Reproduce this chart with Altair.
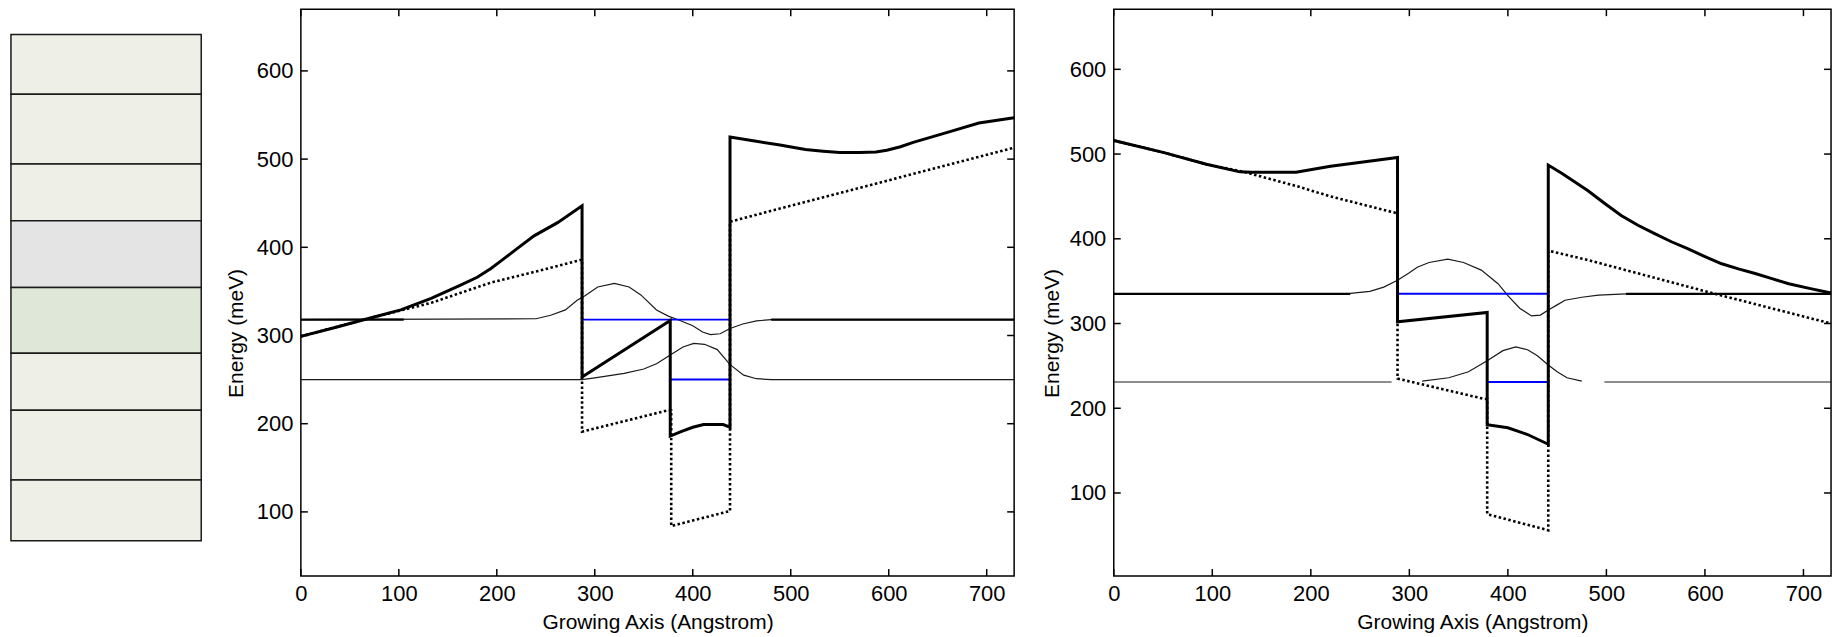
import altair as alt
import pandas as pd

FONT = "Liberation Sans"

# ---------------- layer stack (schematic, top to bottom) ----------------
layer_thickness = [60, 70, 57, 67, 66, 57, 70, 61]
layer_fill = ["#EEEFE7", "#EEEFE7", "#EEEFE7", "#E4E4E4", "#DFE7D9",
              "#EEEFE7", "#EEEFE7", "#EEEFE7"]

# ---------------- axes ----------------
x_ticks = [0, 100, 200, 300, 400, 500, 600, 700]
y_ticks = [100, 200, 300, 400, 500, 600]
x_domain = [0, 728]
y_domain_left = [27.3, 670]
y_domain_right = [2, 671]

# ---------------- left panel ----------------
L_cb_x = [0, 35, 68, 102, 133, 163, 180, 194, 206, 220, 238, 262, 287, 287, 377, 377, 388, 400, 411, 425, 431, 438,
          438, 460, 489, 499, 515, 533, 550, 570, 587, 598, 612, 625, 659, 692, 728]
L_cb_e = [299, 309, 319, 329, 342, 357, 366, 376, 386, 398, 413, 428, 447, 253, 317, 186, 191, 196, 199, 199, 199, 196,
          525, 521, 516, 514, 511, 509, 507.5, 507.5, 508, 510, 514, 519, 530, 541, 547]

L_cb0_x = [0, 68, 133, 194, 238, 287, 287, 374, 378, 378, 438, 438, 489, 600, 728]
L_cb0_e = [299, 319, 337, 360, 372, 386, 191, 215, 215, 84, 101, 429, 444, 476, 513]

L_psi1_x = [0, 240, 255, 270, 282, 290, 303, 320, 335, 347, 363, 375, 387, 400, 410, 418, 428, 438, 451, 465, 480, 728]
L_psi1_e = [318, 319, 323, 329, 340, 345, 355, 359, 355, 346, 329, 322, 317, 311, 304, 301, 302, 308, 313, 316.5, 318, 318]
L_psi1_flat_x = [[0, 105], [480, 728]]
L_psi1_flat_e = [[318, 318], [318, 318]]

L_psi2_x = [0, 287, 300, 330, 350, 363, 377, 390, 401, 412, 425, 438, 452, 465, 480, 728]
L_psi2_e = [250, 250, 252, 257, 262, 268, 278, 287, 291, 290, 284, 267, 255, 251, 250, 250]

L_lvl1_x = [287, 438]
L_lvl1_e = [318, 318]
L_lvl2_x = [377, 438]
L_lvl2_e = [250, 250]

# ---------------- right panel ----------------
R_cb_x = [0, 50, 94, 128, 140, 185, 220, 288, 288, 379, 379, 400, 420, 441,
          441, 455, 468, 481, 498, 515, 532, 549, 566, 583, 600, 617, 634, 651, 668, 685, 706, 728]
R_cb_e = [516, 502, 488, 479, 478.5, 478.5, 485.5, 496, 302, 313, 180.5, 177, 169, 157.5,
          487, 477, 467, 457, 442, 427.5, 416, 406, 396.5, 388, 379, 370.5, 364.5, 359, 353, 347, 341.5, 336]

R_cb0_x = [0, 50, 94, 132, 186, 220, 288, 288, 376, 379, 379, 441, 441, 481, 607, 728]
R_cb0_e = [516, 502, 488, 479, 462, 450, 430, 235, 211, 211, 75, 56, 386, 375, 336, 300]

R_psi1_x = [0, 240, 260, 274, 288, 300, 308, 320, 339, 355, 373, 390, 400, 412, 424, 433, 441, 450, 458, 475, 492, 520, 728]
R_psi1_e = [335, 335.5, 338, 343, 351, 360, 366.5, 372, 376, 372, 363, 347, 333, 318, 309, 310, 316, 322, 327.5, 331, 333.5, 335, 335]
R_psi1_flat_x = [[0, 240], [520, 728]]
R_psi1_flat_e = [[335, 335], [335, 335]]

R_psi2a_x = [0, 282]
R_psi2a_e = [231, 231]
R_psi2b_x = [313, 340, 360, 379, 395, 408, 420, 430, 441, 450, 460, 475]
R_psi2b_e = [232, 236, 243, 256, 268, 272.5, 269, 262, 251, 243, 236, 232]
R_psi2c_x = [498, 728]
R_psi2c_e = [231, 231]

R_lvl1_x = [288, 441]
R_lvl1_e = [335, 335]
R_lvl2_x = [379, 441]
R_lvl2_e = [231, 231]

H = 569


def frame(segs):
    rows = []
    for s, (xs, es) in enumerate(segs):
        for k, (xv, ev) in enumerate(zip(xs, es)):
            rows.append({"x": xv, "E": ev, "seg": s, "i": k})
    return pd.DataFrame(rows)


def energy_panel(cb, cb0, psi, flat, blue, ydom, width, title_x):
    xs = alt.Scale(domain=x_domain, nice=False, zero=False)
    ys = alt.Scale(domain=ydom, nice=False, zero=False)
    xaxis = alt.Axis(values=x_ticks, ticks=False, tickSize=0, domain=False, grid=False,
                     labelFont=FONT, labelFontSize=22, labelColor="black", labelPadding=8,
                     labelFlush=False, labelOverlap=False,
                     title="Growing Axis (Angstrom)", titleFont=FONT, titleFontSize=21,
                     titleFontWeight="normal", titleColor="black", titleY=47,
                     titleBaseline="middle")
    yaxis = alt.Axis(values=y_ticks, ticks=False, tickSize=0, domain=False, grid=False,
                     labelFont=FONT, labelFontSize=22, labelColor="black", labelPadding=8,
                     labelOverlap=False,
                     title="Energy (meV)", titleFont=FONT, titleFontSize=21,
                     titleFontWeight="normal", titleColor="black", titleX=title_x,
                     titleY=325, titleBaseline="middle")

    def line(df, **mk):
        return alt.Chart(df).mark_line(**mk).encode(
            x=alt.X("x:Q", scale=xs, axis=xaxis),
            y=alt.Y("E:Q", scale=ys, axis=yaxis),
            detail="seg:N",
            order="i:Q",
        )

    thin = line(frame(psi), color="#1a1a1a", strokeWidth=1.2)
    flat_l = line(frame(flat), color="black", strokeWidth=2.2)
    lvl = line(frame(blue), color="#0000FF", strokeWidth=2)
    dotted = line(frame([cb0]), color="black", strokeWidth=2.6, strokeDash=[2.5, 2.5])
    thick = line(frame([cb]), color="black", strokeWidth=3, strokeJoin="miter")

    tx = pd.DataFrame({"v": x_ticks})
    ty = pd.DataFrame({"v": y_ticks})
    rule = dict(color="black", strokeWidth=1.5)
    top = alt.Chart(tx).mark_rule(**rule).encode(
        x=alt.X("v:Q", scale=xs, axis=xaxis), y=alt.value(0), y2=alt.value(7))
    bot = alt.Chart(tx).mark_rule(**rule).encode(
        x=alt.X("v:Q", scale=xs, axis=xaxis), y=alt.value(H), y2=alt.value(H - 7))
    left = alt.Chart(ty).mark_rule(**rule).encode(
        y=alt.Y("v:Q", scale=ys, axis=yaxis), x=alt.value(0), x2=alt.value(7))
    right = alt.Chart(ty).mark_rule(**rule).encode(
        y=alt.Y("v:Q", scale=ys, axis=yaxis), x=alt.value(width), x2=alt.value(width - 7))

    return alt.layer(thin, flat_l, lvl, dotted, thick, top, bot, left, right).properties(
        width=width, height=H)


# layer stack chart
cum = [0]
for t in layer_thickness:
    cum.append(cum[-1] + t)
stack_df = pd.DataFrame({
    "y0": cum[:-1], "y1": cum[1:], "fill": layer_fill,
    "x0": [0] * len(layer_thickness), "x1": [1] * len(layer_thickness),
})
stack = alt.Chart(stack_df).mark_rect(stroke="#1a1a1a", strokeWidth=1.5).encode(
    x=alt.X("x0:Q", scale=alt.Scale(domain=[0, 1], nice=False, zero=False), axis=None),
    x2="x1:Q",
    y=alt.Y("y0:Q", scale=alt.Scale(domain=[-25.3, 543.4], nice=False, zero=False, reverse=True), axis=None),
    y2="y1:Q",
    color=alt.Color("fill:N", scale=None),
).properties(width=191, height=H, view=alt.ViewBackground(stroke="transparent"))

left_panel = energy_panel(
    (L_cb_x, L_cb_e), (L_cb0_x, L_cb0_e),
    [(L_psi1_x, L_psi1_e), (L_psi2_x, L_psi2_e)],
    list(zip(L_psi1_flat_x, L_psi1_flat_e)),
    [(L_lvl1_x, L_lvl1_e), (L_lvl2_x, L_lvl2_e)],
    y_domain_left, 716, -65)

right_panel = energy_panel(
    (R_cb_x, R_cb_e), (R_cb0_x, R_cb0_e),
    [(R_psi1_x, R_psi1_e), (R_psi2a_x, R_psi2a_e), (R_psi2b_x, R_psi2b_e), (R_psi2c_x, R_psi2c_e)],
    list(zip(R_psi1_flat_x, R_psi1_flat_e)),
    [(R_lvl1_x, R_lvl1_e), (R_lvl2_x, R_lvl2_e)],
    y_domain_right, 720, -61)

chart = alt.hconcat(stack, left_panel, right_panel, spacing=100, bounds="flush").properties(
    padding={"left": 9, "top": 6, "right": 4, "bottom": 0},
    background="white",
).configure_view(stroke="black", strokeWidth=1.5)

chart.save("out.html", embed_options={"renderer": "svg", "actions": False})
